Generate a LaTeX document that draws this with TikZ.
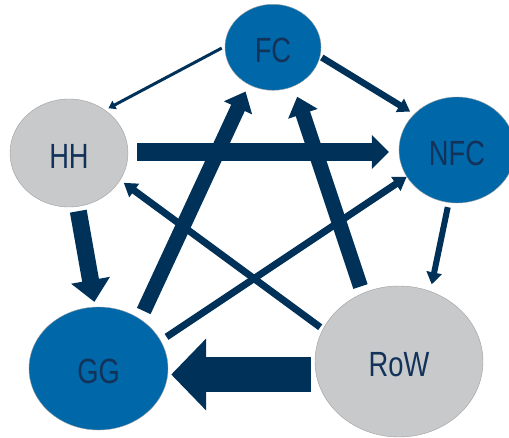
\documentclass[tikz,border=0pt]{standalone}
\usepackage{fontspec}
\setmainfont{Liberation Sans}[FakeStretch=0.78]
\usetikzlibrary{arrows.meta,shapes.geometric,calc}
\definecolor{nodeblue}{HTML}{0068A8}
\definecolor{nodegrey}{HTML}{C8C9CB}
\definecolor{arrownavy}{HTML}{003158}
\definecolor{textnavy}{HTML}{12325A}
\begin{document}
\begin{tikzpicture}[x=1pt,y=-1pt,
  sector/.style={ellipse, inner sep=0pt, draw=gray!75, line width=0.4pt,
    text=textnavy, font=\fontsize{35}{38}\selectfont, text height=31pt, text depth=0pt},
  bluesector/.style={sector, fill=nodeblue},
  greysector/.style={sector, fill=nodegrey},
  flow/.style={draw=arrownavy},
  tip/.style 2 args={-{Triangle[width=#1,length=#2]}}]
\useasboundingbox (0,0) rectangle (509,438);
\clip (0,0) rectangle (509,438);
\node[bluesector, minimum width=96pt, minimum height=86pt] (FC) at (273,47.3) {FC};
\node[greysector, minimum width=118pt, minimum height=108pt] (HH) at (69,153) {HH};
\node[bluesector, minimum width=116pt, minimum height=106pt] (NFC) at (457,150) {NFC};
\node[bluesector, minimum width=139pt, minimum height=123pt] (GG) at (98.5,368.5) {GG};
\node[greysector, minimum width=168pt, minimum height=151pt] (RoW) at (399,361.5) {RoW};
% FC -> HH
\draw[flow, line width=3pt, tip={9pt}{7pt}, shorten <=3.5pt, shorten >=3.8pt] (FC.179) -- (HH.50);
% FC -> NFC
\draw[flow, line width=6.5pt, tip={15pt}{12pt}, shorten <=2pt, shorten >=4.7pt] (FC.-11) -- (NFC.140);
% HH -> NFC
\draw[flow, line width=18pt, tip={33pt}{17pt}, shorten <=9pt, shorten >=10pt] ([yshift=1pt]HH.east) -- ([yshift=1pt]HH.east -| NFC.west);
% HH -> GG
\draw[flow, line width=17pt, tip={38pt}{22pt}, shorten <=4.6pt, shorten >=5pt] (HH.-81) -- (GG.93);
% NFC -> RoW
\draw[flow, line width=6pt, tip={15pt}{12pt}, shorten <=4.6pt, shorten >=7pt] (NFC.-99) -- (RoW.66);
% RoW -> GG
\draw[flow, line width=35pt, tip={70pt}{35pt}, shorten <=4pt, shorten >=3pt] ([yshift=-13pt]RoW.west) -- ([yshift=-13pt]RoW.west -| GG.east);
% GG -> FC
\draw[flow, line width=15pt, tip={30pt}{18pt}, shorten <=8.8pt, shorten >=7.6pt] (GG.50) -- (FC.237);
% RoW -> FC
\draw[flow, line width=15pt, tip={30pt}{18pt}, shorten <=7pt, shorten >=11pt] (RoW.118) -- (FC.298);
% RoW -> HH
\draw[flow, line width=7pt, tip={16pt}{13pt}, shorten <=3.3pt, shorten >=4.4pt] (RoW.157) -- (HH.332);
% GG -> NFC
\draw[flow, line width=7pt, tip={16pt}{13pt}, shorten <=7pt, shorten >=0pt] (GG.24) -- (NFC.208);
\end{tikzpicture}
\end{document}
